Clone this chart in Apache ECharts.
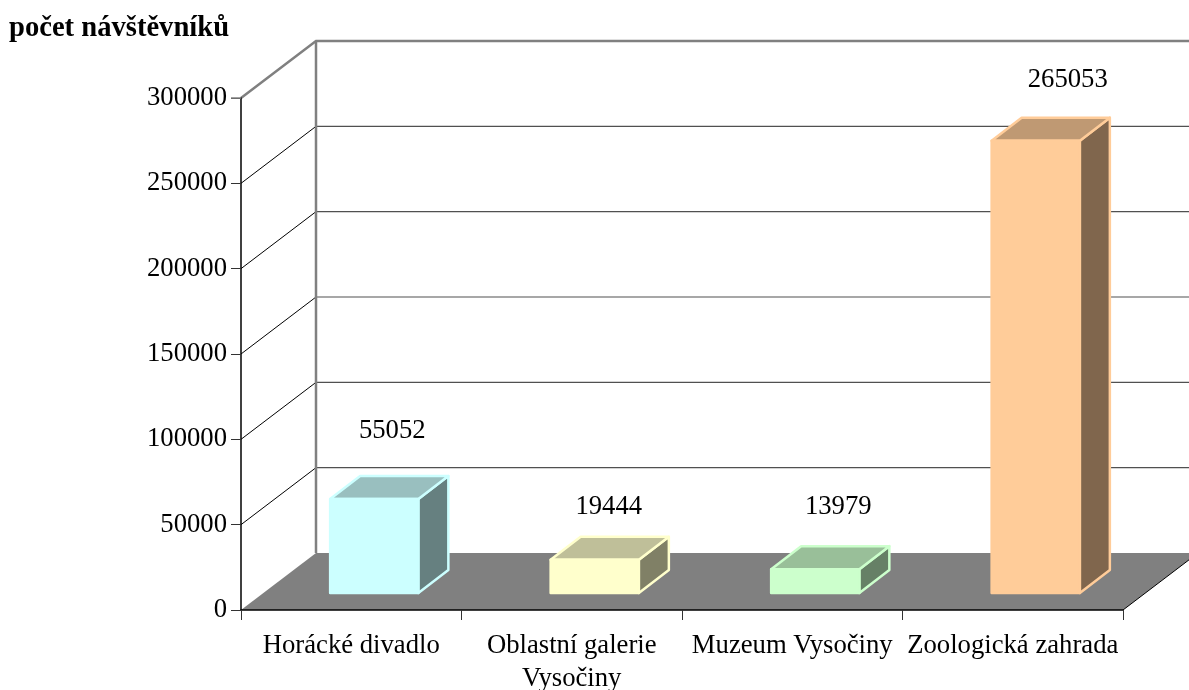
<!DOCTYPE html>
<html><head><meta charset="utf-8">
<style>html,body{margin:0;padding:0;background:#fff}#c{width:1189px;height:690px}</style>
<script src="https://cdn.jsdelivr.net/npm/echarts@6/dist/echarts.min.js"></script>
</head><body><div id="c"></div>
<script>
const categories = ['Horácké divadlo', 'Oblastní galerie\nVysočiny', 'Muzeum Vysočiny', 'Zoologická zahrada'];
const visitors = [55052, 19444, 13979, 265053];
const valueTicks = [0, 50000, 100000, 150000, 200000, 250000, 300000];
const axisTitle = 'počet návštěvníků';

// styling only
const frontColors = ['#CCFFFF', '#FFFFCC', '#CCFFCC', '#FFCC99'];
const topColors = ['#99BFBF', '#BFBF99', '#99BF99', '#BF9973'];
const sideColors = ['#668080', '#808066', '#668066', '#80664D'];
const labelNudge = [[18, -68], [14, -53], [23, -62], [32, -61]];
const FONT = '"Liberation Serif","Times New Roman",serif';
const depthX = 75, depthY = 57;       // wall depth
const barInX = 23, barInY = 17;       // bar front plane inset
const barDX = 30, barDY = 23;         // bar depth
const barRatio = 0.4;
const labelSize = 26.7;

const chart = echarts.init(document.getElementById('c'), null, {renderer: 'canvas'});

function wallItem(params, api) {
  const v = api.value(0);
  const y = api.coord([0, v])[1];
  const cs = params.coordSys;
  const x0 = cs.x, x1 = cs.x + cs.width;
  const children = [];
  if (v === 0) {
    children.push({type: 'polygon', shape: {points: [[x0, y], [x1, y], [x1 + depthX, y - depthY], [x0 + depthX, y - depthY]]},
      style: {fill: '#808080'}});
    children.push({type: 'line', shape: {x1: x1, y1: y, x2: x1 + depthX, y2: y - depthY}, style: {stroke: '#000', lineWidth: 1}});
  } else if (v === 300000) {
    const st = {stroke: '#808080', lineWidth: 2.5, fill: 'none'};
    children.push({type: 'polyline', shape: {points: [[x0, y], [x0 + depthX, y - depthY], [x1 + depthX, y - depthY]]}, style: st});
    children.push({type: 'line', shape: {x1: x0 + depthX, y1: y - depthY, x2: x0 + depthX, y2: api.coord([0, 0])[1] - depthY}, style: {stroke: '#808080', lineWidth: 2.5}});
  } else {
    children.push({type: 'line', shape: {x1: x0, y1: y, x2: x0 + depthX, y2: y - depthY}, style: {stroke: '#000', lineWidth: 1}});
    children.push({type: 'line', shape: {x1: x0 + depthX, y1: y - depthY, x2: x1 + depthX, y2: y - depthY}, style: {stroke: '#505050', lineWidth: 1.2}});
  }
  return {type: 'group', children};
}

function barItem(params, api) {
  const i = api.value(0), val = api.value(1);
  const top = api.coord([i, val]), base = api.coord([i, 0]);
  const w = api.size([1, 0])[0] * barRatio;
  const l = top[0] - w / 2 + barInX, r = l + w;
  const t = top[1] - barInY, b = base[1] - barInY;
  const stroke = frontColors[i];
  const st = fill => ({fill, stroke, lineWidth: 2.5, lineJoin: 'round'});
  return {type: 'group', children: [
    {type: 'polygon', shape: {points: [[r, t], [r + barDX, t - barDY], [r + barDX, b - barDY], [r, b]]}, style: st(sideColors[i])},
    {type: 'polygon', shape: {points: [[l, t], [l + barDX, t - barDY], [r + barDX, t - barDY], [r, t]]}, style: st(topColors[i])},
    {type: 'rect', shape: {x: l, y: t, width: w, height: b - t}, style: st(frontColors[i])},
    {type: 'text', style: {text: String(visitors[i]), x: (l + r) / 2 + labelNudge[i][0], y: t + labelNudge[i][1],
      align: 'center', verticalAlign: 'middle', font: labelSize + 'px ' + FONT, fill: '#000'}}
  ]};
}

function topTickItem(params, api) {
  const y = api.coord([0, api.value(0)])[1], x0 = params.coordSys.x;
  return {type: 'line', shape: {x1: x0 - 10, y1: y, x2: x0, y2: y}, style: {stroke: '#808080', lineWidth: 1.5}};
}

chart.setOption({
  animation: false,
  backgroundColor: '#fff',
  title: {text: axisTitle, left: 9, top: 14, padding: 0, textStyle: {fontFamily: FONT, fontSize: 28.6, fontWeight: 'bold', color: '#000'}},
  grid: {left: 241, right: 66, top: 98, bottom: 80, containLabel: false, outerBoundsMode: 'none'},
  xAxis: {type: 'category', data: categories, z: 6,
    axisLine: {lineStyle: {color: '#000', width: 1.5}},
    axisTick: {show: true, alignWithLabel: false, length: 10, lineStyle: {color: '#333'}},
    axisLabel: {interval: 0, margin: 19.5, fontFamily: FONT, fontSize: labelSize, color: '#000', lineHeight: 33, hideOverlap: false},
    splitLine: {show: false}},
  yAxis: {type: 'value', min: 0, max: 300000, interval: 50000, z: 6,
    axisLine: {show: true, lineStyle: {color: '#000', width: 1.5}},
    axisTick: {show: true, length: 10, lineStyle: {color: '#333'}},
    axisLabel: {margin: 14, padding: [2, 0, 0, 0], fontFamily: FONT, fontSize: labelSize, color: '#000', formatter: v => String(v)},
    splitLine: {show: false}},
  series: [
    {type: 'custom', name: 'stěny', z: 1, silent: true, renderItem: wallItem, data: valueTicks.map(v => [v]), encode: {y: 0}},
    {type: 'custom', name: 'počet návštěvníků', z: 2, renderItem: barItem, data: categories.map((c, i) => [i, visitors[i]]), encode: {x: 0, y: 1}},
    {type: 'custom', name: 'horní dílek', z: 7, silent: true, renderItem: topTickItem, data: [[valueTicks[valueTicks.length - 1]]], encode: {y: 0}}
  ]
});
</script></body></html>
